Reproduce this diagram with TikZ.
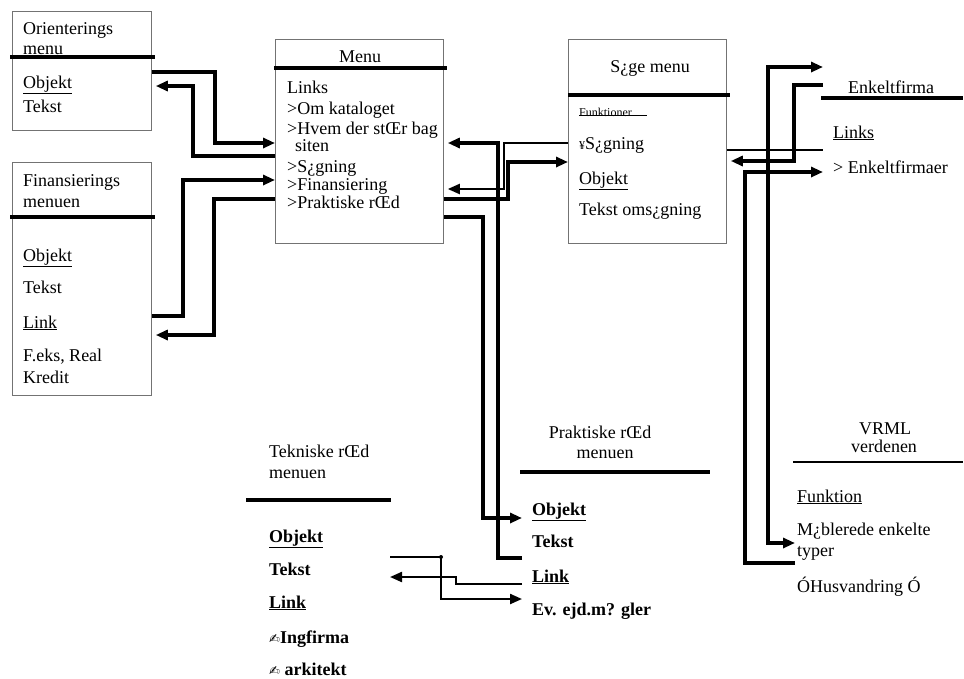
\documentclass[tikz,border=0pt]{standalone}
\usepackage{fontspec}
\setmainfont{Liberation Serif}
\newfontfamily\dejavu{DejaVu Sans}
\usetikzlibrary{arrows.meta}
\newcommand{\pen}{{\dejavu\fontsize{13}{13}\selectfont ✍}}
\begin{document}
\begin{tikzpicture}[x=1pt,y=-1pt,
  box/.style={draw=black!55, line width=0.8pt, anchor=north west, inner sep=0pt},
  sep/.style={line width=3.8pt},
  conn/.style={line width=3.2pt},
  thinc/.style={line width=2.2pt},
  arr/.style={-{Triangle[length=12pt,width=10pt]}},
  txt/.style={anchor=base west, inner sep=0pt, font=\fontsize{18}{20}\selectfont},
  ctxt/.style={anchor=base, inner sep=0pt, font=\fontsize{18}{20}\selectfont},
  btxt/.style={anchor=base west, inner sep=0pt, font=\fontsize{18}{20}\selectfont\bfseries},
  dot/.style={circle, fill=black, inner sep=0pt, minimum size=4pt}]
\useasboundingbox (0,0) rectangle (964,678);
\fill[white] (0,0) rectangle (964,678);

% ---------- boxes ----------
\node[box, minimum width=139pt, minimum height=119pt] (ori) at (12,11) {};
\node[box, minimum width=168pt, minimum height=204pt] (menu) at (275,39) {};
\node[box, minimum width=158pt, minimum height=204pt] (soge) at (568,39) {};
\node[box, minimum width=139pt, minimum height=233pt] (fin) at (12,162) {};

% ---------- separators ----------
\draw[sep] (10,57) -- (155,57);
\draw[sep] (274,68) -- (447,68);
\draw[sep] (568,95) -- (730,95);
\draw[sep] (10,217) -- (155,217);
\draw[sep] (821,98) -- (963,98);
\draw[sep] (520,472) -- (710,472);
\draw[sep] (246,500) -- (391,500);
\draw[line width=2.6pt] (793,462) -- (963,462);

% ---------- Orienterings menu ----------
\node[txt] (oriT1) at (23,34) {Orienterings};
\node[txt] (oriT2) at (23,54) {menu};
\node[txt] (oriO) at (23,88) {\underline{Objekt}};
\node[txt] (oriTk) at (23,112) {Tekst};

% ---------- Finansierings menu ----------
\node[txt] (finT1) at (23,186) {Finansierings};
\node[txt] (finT2) at (23,207) {menuen};
\node[txt] (finO) at (23,261) {\underline{Objekt}};
\node[txt] (finTk) at (23,293) {Tekst};
\node[txt] (finL) at (23,328) {\underline{Link}};
\node[txt] (finF) at (23,361) {F.eks, Real};
\node[txt] (finK) at (23,383) {Kredit};

% ---------- Menu ----------
\node[ctxt] (menuT) at (360,62) {Menu};
\node[txt] (m1) at (287,93) {Links};
\node[txt] (m2) at (287,114) {>Om kataloget};
\node[txt] (m3) at (287,134) {>Hvem der stŒr bag};
\node[txt] (m4) at (295,151) {siten};
\node[txt] (m5) at (287,172) {>S¿gning};
\node[txt] (m6) at (287,190) {>Finansiering};
\node[txt] (m7) at (287,208) {>Praktiske rŒd};

% ---------- Soge menu ----------
\node[ctxt] (sogeT) at (650,72) {S¿ge menu};
\node[anchor=base west, inner sep=0pt, font=\fontsize{12}{12}\selectfont] (funk) at (579,116) {Funktioner};
\draw[line width=0.7pt] (funk.base west) ++(0,-1) -- ++(68,0);
\node[txt] (s1) at (579,149) {{\fontsize{12}{12}\selectfont ¥}S¿gning};
\node[txt] (s2) at (579,184) {\underline{Objekt}};
\node[txt] (s3) at (579,215) {Tekst oms¿gning};

% ---------- Enkeltfirma ----------
\node[txt] (eT) at (848,93) {Enkeltfirma};
\node[txt] (e1) at (833,138) {\underline{Links}};
\node[txt] (e2) at (833,173) {> Enkeltfirmaer};

% ---------- Praktiske raad ----------
\node[ctxt] (pT1) at (600,438) {Praktiske rŒd};
\node[ctxt] (pT2) at (605,458) {menuen};
\node[btxt] (p1) at (532,515) {\underline{Objekt}};
\node[btxt] (p2) at (532,547) {Tekst};
\node[btxt] (p3) at (532,582) {\underline{Link}};
\node[btxt] (p4) at (532,615) {Ev. ejd.m? gler};

% ---------- Tekniske raad ----------
\node[txt] (tT1) at (269,457) {Tekniske rŒd};
\node[txt] (tT2) at (269,478) {menuen};
\node[btxt] (t1) at (269,542) {\underline{Objekt}};
\node[btxt] (t2) at (269,575) {Tekst};
\node[btxt] (t3) at (269,608) {\underline{Link}};
\node[btxt] (t4) at (269,643) {\pen Ingfirma};
\node[btxt] (t5) at (269,675) {\pen\ arkitekt};

% ---------- VRML ----------
\node[ctxt] (vT1) at (885,434) {VRML};
\node[ctxt] (vT2) at (884,452) {verdenen};
\node[txt] (v1) at (797,502) {\underline{Funktion}};
\node[txt] (v2) at (797,535) {M¿blerede enkelte};
\node[txt] (v3) at (797,556) {typer};
\node[txt] (v4) at (797,592) {ÓHusvandring Ó};

% ---------- connector anchors ----------
\coordinate (pL) at (522,0);
\coordinate (tR) at (390,0);
\coordinate (eL) at (823,0);
\coordinate (vL) at (795,0);
\coordinate (j1) at (768,150);
\coordinate (j2) at (441,557);

% ---------- connectors ----------
\draw[conn,arr] (ori.east |- 0,72) -| (215,143) -- (menu.west |- 0,143);
\draw[conn,arr,shorten >=4pt] (menu.west |- 0,156) -| (193,86) -- (ori.east |- 0,86);
\draw[conn,arr] (fin.east |- 0,316) -| (183,180) -- (menu.west |- 0,180);
\draw[conn,arr,shorten >=4pt] (menu.west |- 0,199) -| (214,335) -- (fin.east |- 0,335);

\draw[conn,arr,shorten >=4pt] (pL |- 0,558) -| (498,143) -- (menu.east |- 0,143);
\draw[thinc,arr,shorten >=4pt] (soge.west |- 0,143) -| (504,189) -- (menu.east |- 0,189);
\draw[conn,arr] (menu.east |- 0,199) -| (508,162) -- (soge.west |- 0,162);
\draw[conn,arr] (menu.east |- 0,217) -| (483,518) -- (pL |- 0,518);

\draw[thinc] (soge.east |- 0,150) -- (eL |- 0,150);
\draw[conn,arr] (j1) |- (eL |- 0,67);
\draw[conn,arr] (j1) |- (vL |- 0,543);
\node[dot] at (j1) {};
\draw[conn,arr,shorten >=4pt] (eL |- 0,85) -| (794,161) -- (soge.east |- 0,161);
\draw[conn,arr] (vL |- 0,563) -| (745,172) -- (eL |- 0,172);

\draw[thinc] (tR |- 0,557) -- (j2);
\draw[thinc,arr] (j2) |- (pL |- 0,599);
\node[dot] at (j2) {};
\draw[thinc,arr] (pL |- 0,584) -| (456,577) -- (tR |- 0,577);
\end{tikzpicture}
\end{document}
